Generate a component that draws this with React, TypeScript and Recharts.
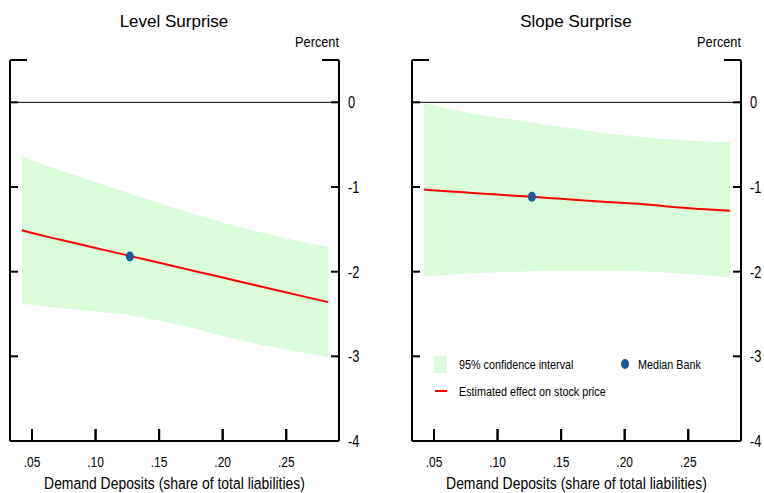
import React from "react";
import {
  ComposedChart,
  Area,
  Line,
  Scatter,
  XAxis,
  YAxis,
  ReferenceLine,
} from "recharts";

// ---------- data ----------
const xValues = [0.042, 0.06, 0.08, 0.1, 0.12, 0.14, 0.16, 0.18, 0.2, 0.22, 0.24, 0.26, 0.283];

const levelEffect = [-1.51, -1.58, -1.65, -1.72, -1.79, -1.86, -1.93, -2.0, -2.07, -2.14, -2.21, -2.28, -2.36];
const levelUpper = [-0.64, -0.74, -0.84, -0.94, -1.04, -1.14, -1.24, -1.33, -1.42, -1.5, -1.57, -1.64, -1.71];
const levelLower = [-2.38, -2.41, -2.44, -2.47, -2.5, -2.55, -2.61, -2.68, -2.76, -2.83, -2.89, -2.95, -3.01];

const slopeEffect = [-1.03, -1.05, -1.07, -1.09, -1.11, -1.13, -1.15, -1.17, -1.19, -1.21, -1.24, -1.26, -1.28];
const slopeUpper = [-0.01, -0.07, -0.13, -0.18, -0.22, -0.27, -0.31, -0.36, -0.39, -0.42, -0.44, -0.46, -0.47];
const slopeLower = [-2.06, -2.04, -2.02, -2.01, -2.0, -1.99, -1.99, -1.99, -1.99, -2.0, -2.02, -2.04, -2.07];

const medianX = 0.127;
const levelMedian = -1.82;
const slopeMedian = -1.115;

const xTicks = [0.05, 0.1, 0.15, 0.2, 0.25];
const xTickLabels = [".05", ".10", ".15", ".20", ".25"];
const yTicks = [-4, -3, -2, -1, 0, 0.5];
const yTickLabels = ["-4", "-3", "-2", "-1", "0", ""];

const titles = ["Level Surprise", "Slope Surprise"];
const xAxisTitle = "Demand Deposits (share of total liabilities)";
const unitLabel = "Percent";
const legendLabels = ["95% confidence interval", "Median Bank", "Estimated effect on stock price"];

// ---------- styles ----------
const SANS = "'Liberation Sans', Arial, sans-serif";
const BAND = "#dbfcdb";
const RED = "#ff0000";
const BLUE = "#1a5b9c";

function NarrowText({
  x,
  y,
  size,
  sx,
  anchor = "start",
  children,
}: {
  x: number;
  y: number;
  size: number;
  sx: number;
  anchor?: "start" | "middle" | "end";
  children: React.ReactNode;
}) {
  return (
    <text
      transform={`translate(${x},${y}) scale(${sx},1)`}
      x={0}
      y={0}
      textAnchor={anchor}
      fontFamily={SANS}
      fontSize={size}
      fill="#000"
    >
      {children}
    </text>
  );
}

function buildRows(effect: number[], upper: number[], lower: number[]) {
  return xValues.map((x, i) => ({
    x,
    effect: effect[i],
    band: [lower[i], upper[i]],
  }));
}

// x tick: native tick line goes inward (negative tickSize); y here = axis line y
const XTick = (props: any) => {
  const { x, y, payload } = props;
  const idx = xTicks.indexOf(payload.value);
  return (
    <g>
      <line x1={x} x2={x} y1={y} y2={y - 12} stroke="#000" strokeWidth={2} />
      <NarrowText x={x} y={y + 26} size={15} sx={0.8} anchor="middle">
        {idx >= 0 ? xTickLabels[idx] : ""}
      </NarrowText>
    </g>
  );
};

const RightYTick = (props: any) => {
  const { x, y, payload } = props;
  const idx = yTicks.indexOf(payload.value);
  const len = payload.value === 0.5 ? 17 : 8;
  return (
    <g>
      <line x1={x - len} x2={x} y1={y} y2={y} stroke="#000" strokeWidth={2} />
      <NarrowText x={x + 9} y={y + 6} size={16} sx={0.8}>
        {idx >= 0 ? yTickLabels[idx] : ""}
      </NarrowText>
    </g>
  );
};

const LeftYTick = (props: any) => {
  const { x, y, payload } = props;
  const len = payload.value === 0.5 ? 17 : 8;
  return <line x1={x} x2={x + len} y1={y} y2={y} stroke="#000" strokeWidth={2} />;
};

const AxisTitle = (props: any) => {
  const vb = props.viewBox || { x: 0, y: 0, width: 0, height: 0 };
  return (
    <NarrowText x={vb.x + vb.width / 2} y={vb.y + vb.height - 4} size={17} sx={0.82} anchor="middle">
      {xAxisTitle}
    </NarrowText>
  );
};

const MedianShape = (props: any) => {
  const { cx, cy } = props;
  return <ellipse cx={cx} cy={cy} rx={4} ry={5} fill={BLUE} />;
};

function Panel({
  title,
  effect,
  upper,
  lower,
  median,
  left,
  showLegend,
}: {
  title: string;
  effect: number[];
  upper: number[];
  lower: number[];
  median: number;
  left: number;
  showLegend: boolean;
}) {
  const rows = buildRows(effect, upper, lower);
  const medianRows = [{ x: medianX, median }];
  return (
    <div style={{ position: "absolute", left, top: 0, width: 382, height: 493 }}>
      <ComposedChart
        width={382}
        height={493}
        data={rows}
        margin={{ top: 60, right: 0, bottom: 0, left: 9 }}
        style={{ position: "absolute", left: 0, top: 0 }}
      >
        <XAxis
          dataKey="x"
          type="number"
          domain={[0.0327, 0.2915]}
          ticks={xTicks}
          allowDataOverflow
          height={52}
          axisLine={{ stroke: "#000", strokeWidth: 2 }}
          tickLine={{ stroke: "#000", strokeWidth: 2 }}
          tickSize={-12}
          tickMargin={12}
          tick={<XTick />}
          interval={0}
          label={<AxisTitle />}
        />
        <YAxis
          yAxisId="L"
          orientation="left"
          type="number"
          domain={[-4, 0.5]}
          ticks={yTicks}
          allowDataOverflow
          width={1}
          axisLine={{ stroke: "#000", strokeWidth: 2 }}
          tickLine={false}
          tickSize={0}
          tickMargin={0}
          tick={<LeftYTick />}
          interval={0}
        />
        <YAxis
          yAxisId="R"
          orientation="right"
          type="number"
          domain={[-4, 0.5]}
          ticks={yTicks}
          allowDataOverflow
          width={43}
          axisLine={{ stroke: "#000", strokeWidth: 2 }}
          tickLine={false}
          tickSize={0}
          tickMargin={0}
          tick={<RightYTick />}
          interval={0}
        />
        <Area
          yAxisId="R"
          dataKey="band"
          type="monotone"
          stroke="none"
          fill={BAND}
          fillOpacity={1}
          isAnimationActive={false}
          activeDot={false}
        />
        <ReferenceLine yAxisId="R" y={0} stroke="#000" strokeWidth={1} />
        <ReferenceLine yAxisId="R" y={-4} stroke="#000" strokeWidth={2} />
        <Line
          yAxisId="R"
          dataKey="effect"
          type="monotone"
          stroke={RED}
          strokeWidth={2}
          dot={false}
          activeDot={false}
          isAnimationActive={false}
        />
        <Scatter
          yAxisId="R"
          data={medianRows}
          dataKey="median"
          shape={<MedianShape />}
          isAnimationActive={false}
        />
      </ComposedChart>
      <svg
        width={382}
        height={493}
        style={{ position: "absolute", left: 0, top: 0, pointerEvents: "none" }}
      >
        <text x={174} y={27} textAnchor="middle" fontFamily={SANS} fontSize={17} fill="#000">
          {title}
        </text>
        <NarrowText x={339} y={47} size={15} sx={0.85} anchor="end">
          {unitLabel}
        </NarrowText>
        {showLegend && (
          <g>
            <rect x={32} y={356} width={13} height={17} fill={BAND} />
            <NarrowText x={57} y={369} size={13} sx={0.83}>
              {legendLabels[0]}
            </NarrowText>
            <ellipse cx={223} cy={364} rx={4} ry={5} fill={BLUE} />
            <NarrowText x={236} y={369} size={13} sx={0.83}>
              {legendLabels[1]}
            </NarrowText>
            <line x1={33} x2={45} y1={391} y2={391} stroke={RED} strokeWidth={2} />
            <NarrowText x={57} y={396} size={13} sx={0.83}>
              {legendLabels[2]}
            </NarrowText>
          </g>
        )}
      </svg>
    </div>
  );
}

export default function App() {
  return (
    <div
      style={{
        position: "absolute",
        left: 0,
        top: 0,
        width: 764,
        height: 493,
        background: "#fff",
        overflow: "hidden",
      }}
    >
      <Panel
        title={titles[0]}
        effect={levelEffect}
        upper={levelUpper}
        lower={levelLower}
        median={levelMedian}
        left={0}
        showLegend={false}
      />
      <Panel
        title={titles[1]}
        effect={slopeEffect}
        upper={slopeUpper}
        lower={slopeLower}
        median={slopeMedian}
        left={402}
        showLegend={true}
      />
    </div>
  );
}
